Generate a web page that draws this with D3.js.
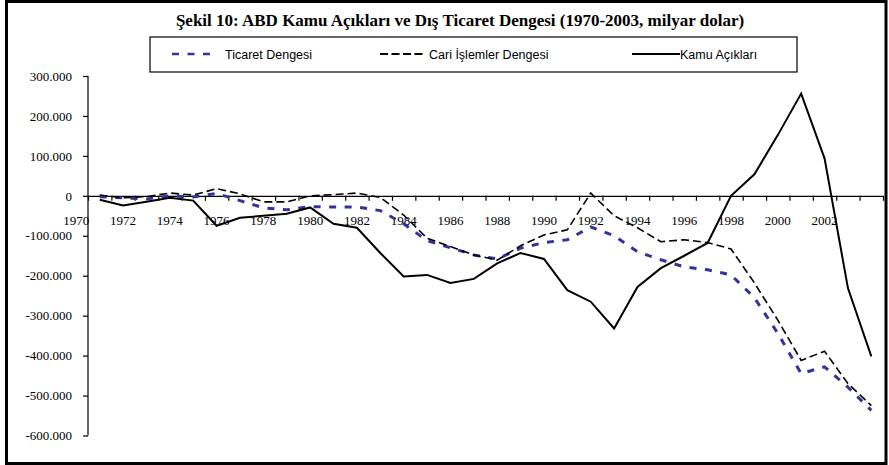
<!DOCTYPE html>
<html lang="tr">
<head>
    <meta charset="UTF-8">
    <title>Şekil 10</title>
    <script src="https://cdn.jsdelivr.net/npm/d3@7"></script>
    <style>
        body { margin: 0; background: #fff; }
    </style>
</head>
<body>
    <script>
        // yıllar (kategori merkezleri) ve seriler, milyar dolar
        const years = d3.range(1971, 2005);
        const ticaret = [-2, -5, -8, 0, -3, 6, -12, -30, -35, -27, -28, -28, -37, -70, -112, -130, -148, -158,
            -131, -117, -110, -78, -100, -140, -160, -178, -185, -198, -255, -344, -445, -428, -479, -537];
        const cari = [2, -5, -2, 7, 2, 18, 5, -15, -15, 0, 3, 7, -4, -48, -106, -127, -148, -161,
            -125, -98, -85, 7, -50, -80, -115, -110, -117, -133, -218, -311, -412, -389, -470, -525];
        const kamu = [-10, -24, -15, -5, -12, -75, -55, -50, -45, -29, -70, -80, -143, -202, -198, -218, -208, -169,
            -143, -158, -236, -265, -332, -228, -181, -150, -118, 0, 54, 152, 256, 94, -231, -402];
        const xLabels = d3.range(1970, 2003, 2);
        const yTicks = d3.range(-600, 301, 100);

        const serif = '"Liberation Serif", "Times New Roman", serif';
        const sans = '"Liberation Sans", Arial, sans-serif';
        const width = 889, height = 465;
        const x = d3.scaleLinear().domain([1970.5, 2004.5]).range([88, 883]);
        const y = d3.scaleLinear().domain([-600, 300]).range([435.5, 76]);

        const loc = d3.formatLocale({decimal: ",", thousands: ".", grouping: [3], currency: ["", ""], minus: "-"});
        const fmt = v => loc.format(",")(v * 1000);

        const svg = d3.select("body").append("svg").attr("width", width).attr("height", height);
        svg.append("rect").attr("width", width).attr("height", height).attr("fill", "#fff");
        svg.append("rect").attr("x", 6.5).attr("y", 1.5).attr("width", 879.5).attr("height", 462)
            .attr("fill", "none").attr("stroke", "#000").attr("stroke-width", 3);

        svg.append("text").attr("x", 460).attr("y", 26).attr("text-anchor", "middle")
            .style("font-family", serif).attr("font-weight", "bold").attr("font-size", 17)
            .text("Şekil 10: ABD Kamu Açıkları ve Dış Ticaret Dengesi (1970-2003, milyar dolar)");

        // y ekseni
        const yAxis = svg.append("g").attr("transform", "translate(88,0)")
            .call(d3.axisLeft(y).tickValues(yTicks).tickFormat(fmt).tickSize(5).tickPadding(11));
        yAxis.attr("font-family", null);
        yAxis.select(".domain").attr("d", `M0,${y(300)}V${y(-600)}`);
        yAxis.selectAll("text").style("font-family", serif).style("font-size", "13px").attr("fill", "#000");

        // x ekseni (0 çizgisi), işaretler kategori sınırlarında
        const xAxis = svg.append("g").attr("transform", `translate(0,${y(0)})`)
            .call(d3.axisBottom(x).tickValues(d3.range(1970.5, 2004.6, 1)).tickFormat("").tickSize(5).tickSizeOuter(0));
        xAxis.selectAll(".tick text").remove();
        svg.append("g").selectAll("text").data(xLabels).join("text")
            .style("font-family", serif).style("font-size", "13px").attr("fill", "#000")
            .attr("x", d => x(d)).attr("y", y(0) + 29).attr("text-anchor", "middle").text(d => d);
        svg.selectAll(".domain, .tick line").attr("stroke", "#000").attr("stroke-width", 1.2);

        const series = [
            {name: "Ticaret Dengesi", values: ticaret, color: "#333399", width: 3, dash: "7,8.5"},
            {name: "Cari İşlemler Dengesi", values: cari, color: "#000", width: 1.6, dash: "8,4"},
            {name: "Kamu Açıkları", values: kamu, color: "#000", width: 2, dash: null}
        ];
        const line = d3.line().x((d, i) => x(years[i])).y(d => y(d));
        svg.selectAll("path.series").data(series).join("path").attr("class", "series")
            .attr("d", d => line(d.values)).attr("fill", "none")
            .attr("stroke", d => d.color).attr("stroke-width", d => d.width)
            .attr("stroke-dasharray", d => d.dash).attr("stroke-linejoin", "miter");

        // lejant
        const legend = svg.append("g");
        legend.append("rect").attr("x", 150).attr("y", 37).attr("width", 647).attr("height", 35)
            .attr("fill", "#fff").attr("stroke", "#000").attr("stroke-width", 1.2);
        const lx = [172, 380, 632];
        const lw = [38, 46, 48];
        const tx = [53, 49, 48];
        const items = legend.selectAll("g").data(series).join("g")
            .attr("transform", (d, i) => `translate(${lx[i]},54)`);
        items.append("line").attr("x1", 0).attr("x2", (d, i) => lw[i])
            .attr("stroke", d => d.color).attr("stroke-width", (d, i) => i === 0 ? 2.5 : 2)
            .attr("stroke-dasharray", (d, i) => i === 1 ? "8,3.5" : d.dash);
        items.append("text").style("font-family", sans).attr("x", (d, i) => tx[i]).attr("y", 4.5)
            .attr("font-size", 12.5).text(d => d.name);
    </script>
</body>
</html>
